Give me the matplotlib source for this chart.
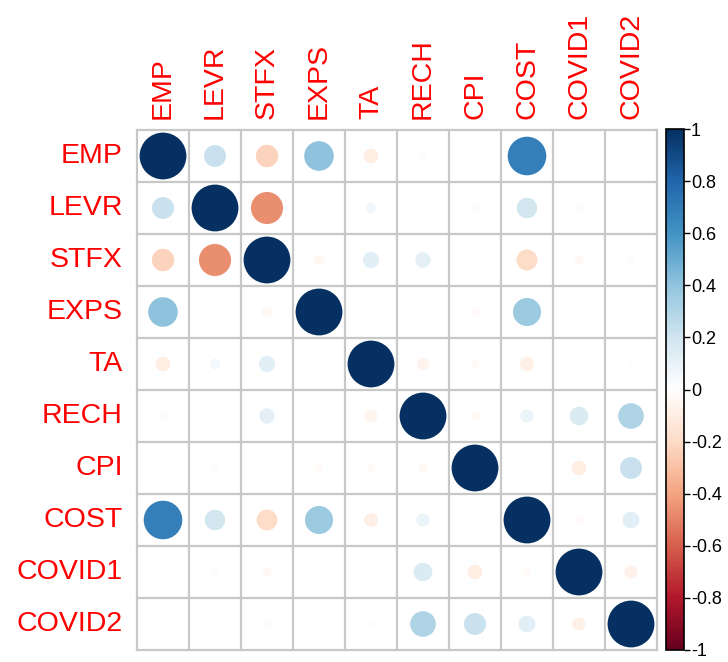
import numpy as np
import matplotlib.pyplot as plt
from matplotlib.patches import Circle
from matplotlib.colors import LinearSegmentedColormap, Normalize
from matplotlib.colorbar import ColorbarBase

plt.rcParams['font.family'] = ['Liberation Sans', 'DejaVu Sans']

names = ["EMP", "LEVR", "STFX", "EXPS", "TA", "RECH", "CPI", "COST", "COVID1", "COVID2"]

# upper triangle of the correlation matrix, row by row (excluding diagonal)
upper = [
    [0.22, -0.23, 0.40, -0.10, 0.02, 0.01, 0.68, 0.01, 0.01],   # EMP
    [-0.47, 0.01, 0.05, 0.01, 0.02, 0.19, 0.02, -0.01],         # LEVR
    [-0.05, 0.12, 0.11, 0.01, -0.20, -0.04, 0.02],              # STFX
    [0.01, -0.02, -0.03, 0.36, 0.01, -0.02],                    # EXPS
    [-0.07, -0.03, -0.09, 0.01, -0.02],                         # TA
    [-0.04, 0.08, 0.16, 0.30],                                  # RECH
    [0.01, -0.10, 0.22],                                        # CPI
    [-0.03, 0.13],                                              # COST
    [-0.08],                                                    # COVID1
]

n = len(names)
corr = np.eye(n)
for i, row in enumerate(upper):
    for k, v in enumerate(row):
        j = i + 1 + k
        corr[i, j] = v
        corr[j, i] = v

# RdBu palette as used by corrplot
cmap = LinearSegmentedColormap.from_list("corr", [
    "#67001F", "#B2182B", "#D6604D", "#F4A582", "#FDDBC7", "#FFFFFF",
    "#D1E5F0", "#92C5DE", "#4393C3", "#2166AC", "#053061"], N=200)
norm = Normalize(-1, 1)

W, H = 728, 662
fig = plt.figure(figsize=(W / 100, H / 100), dpi=100)

ax = fig.add_axes([137 / W, (H - 650) / H, 520 / W, 520 / H])
ax.set_xlim(0, n)
ax.set_ylim(n, 0)
ax.axis("off")

# grid
for k in range(n + 1):
    ax.plot([k, k], [0, n], color="#c8c8c8", lw=1.6, zorder=1, clip_on=False)
    ax.plot([0, n], [k, k], color="#c8c8c8", lw=1.6, zorder=1, clip_on=False)

for i in range(n):
    for j in range(n):
        r = corr[i, j]
        rad = 0.45 * np.sqrt(abs(r))
        ax.add_patch(Circle((j + 0.5, i + 0.5), rad, facecolor=cmap(norm(r)),
                            edgecolor="none", zorder=2))

for k, nm in enumerate(names):
    ax.text(-0.27, k + 0.5, nm, ha="right", va="center", color="red", fontsize=20.5)
    ax.text(k + 0.5, -0.22, nm, ha="center", va="bottom", rotation=90,
            color="red", fontsize=20.5)

cax = fig.add_axes([666 / W, (H - 650) / H, 18 / W, 521 / H])
cb = ColorbarBase(cax, cmap=cmap, norm=norm, orientation="vertical")
ticks = np.round(np.arange(-1, 1.01, 0.2), 1)
cb.set_ticks(ticks)
cb.set_ticklabels([("%g" % t) if t != 0 else "0" for t in ticks])
cb.outline.set_linewidth(1.2)
cax.tick_params(labelsize=13, length=4, width=1, pad=1)

fig.savefig("out.png", dpi=100)
